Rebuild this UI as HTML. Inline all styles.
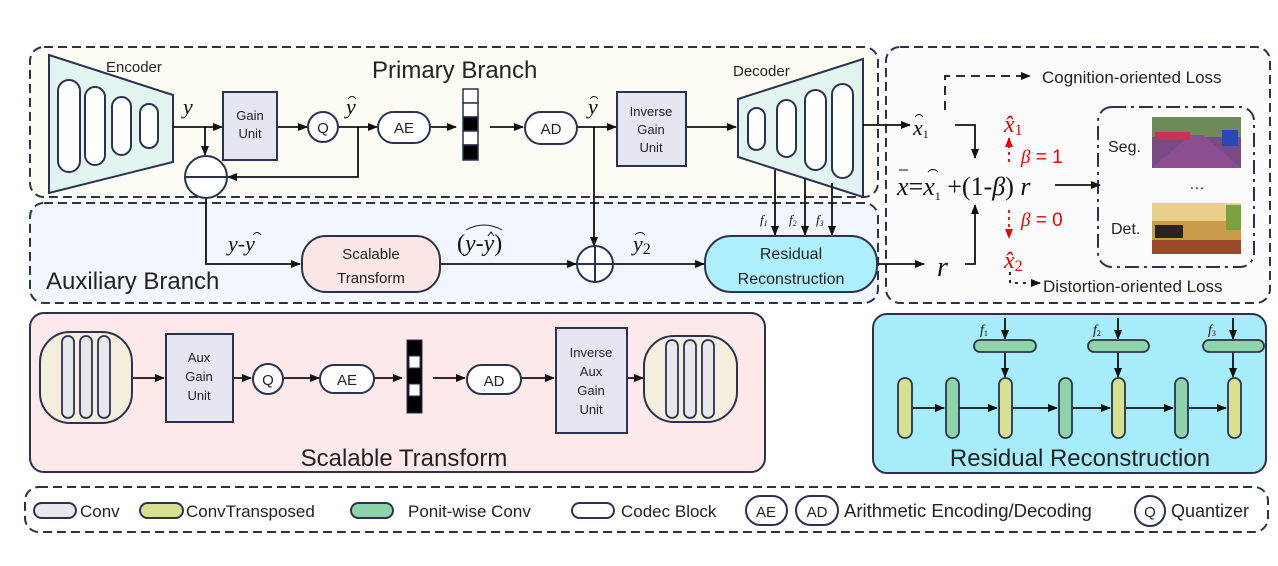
<!DOCTYPE html>
<html><head><meta charset="utf-8"><style>
html,body{margin:0;padding:0;background:#fff;}
svg{display:block;}
.s{font-family:"Liberation Sans",sans-serif;fill:#222;}
.m{font-family:"Liberation Serif",serif;font-style:italic;fill:#111;}
.n{font-family:"Liberation Serif",serif;fill:#111;}
</style></head><body>
<svg width="1278" height="566" viewBox="0 0 1278 566" xmlns="http://www.w3.org/2000/svg">
<defs>
<marker id="a" markerWidth="10" markerHeight="10" refX="9" refY="5" orient="auto" markerUnits="userSpaceOnUse"><path d="M0,1 L10,5 L0,9z" fill="#111"/></marker>
<marker id="r" markerWidth="10" markerHeight="10" refX="9" refY="5" orient="auto" markerUnits="userSpaceOnUse"><path d="M0,1 L10,5 L0,9z" fill="#e00"/></marker>
</defs>
<g stroke="#2b3250" stroke-width="2" stroke-dasharray="9,5">
<rect x="30" y="47" width="848" height="150" rx="14" fill="#fdfcf4"/>
<rect x="30" y="203" width="848" height="100" rx="14" fill="#f2f6fd"/>
<rect x="886" y="47" width="384" height="256" rx="14" fill="#fbfbfb"/>
<rect x="25" y="487" width="1243" height="45" rx="14" fill="#fff"/>
</g>
<rect x="1098" y="107" width="156" height="160" rx="14" fill="none" stroke="#2b3250" stroke-width="2" stroke-dasharray="14,5,3,5"/>
<!-- encoder -->
<path d="M49,55 L173,95 L173,162 L49,193z" fill="#e1f4f0" stroke="#2b3250" stroke-width="2"/>
<g fill="#fff" stroke="#2b3250" stroke-width="2">
<rect x="58" y="80" width="22" height="92" rx="11"/><rect x="85" y="87" width="20" height="78" rx="10"/>
<rect x="112" y="97" width="19" height="58" rx="9.5"/><rect x="140" y="104" width="18" height="44" rx="9"/>
</g>
<text x="106" y="72" class="s" font-size="15">Encoder</text>
<text x="372" y="78" class="s" font-size="24">Primary Branch</text>
<!-- decoder -->
<path d="M738,99 L863,59 L863,197 L738,157z" fill="#e1f4f0" stroke="#2b3250" stroke-width="2"/>
<g fill="#fff" stroke="#2b3250" stroke-width="2">
<rect x="748" y="108" width="17" height="42" rx="8.5"/><rect x="777" y="100" width="19" height="57" rx="9.5"/>
<rect x="805" y="90" width="21" height="80" rx="10.5"/><rect x="832" y="84" width="21" height="94" rx="10.5"/>
</g>
<text x="733" y="76" class="s" font-size="15">Decoder</text>
<!-- primary row -->
<g stroke="#111" stroke-width="1.8" fill="none">
<path d="M173,127 H222" marker-end="url(#a)"/>
<path d="M205,127 V155" marker-end="url(#a)"/>
<path d="M277,127 H307" marker-end="url(#a)"/>
<path d="M339,127 H377" marker-end="url(#a)"/>
<path d="M358,127 V177 H228" marker-end="url(#a)"/>
<path d="M430,127 H456" marker-end="url(#a)"/>
<path d="M490,127 H523" marker-end="url(#a)"/>
<path d="M577,127 H616" marker-end="url(#a)"/>
<path d="M594,127 V246" marker-end="url(#a)"/>
<path d="M686,127 H736" marker-end="url(#a)"/>
<path d="M863,125 H910" marker-end="url(#a)"/>
<path d="M775,170 V235" marker-end="url(#a)"/>
<path d="M805,178 V235" marker-end="url(#a)"/>
<path d="M832,183 V235" marker-end="url(#a)"/>
<path d="M206,198 V264 H300" marker-end="url(#a)"/>
<path d="M440,264 H576" marker-end="url(#a)"/>
<path d="M613,264 H704" marker-end="url(#a)"/>
<path d="M877,264 H924" marker-end="url(#a)"/>
</g>
<rect x="223" y="92" width="54" height="68" fill="#e6e6f2" stroke="#2b3250" stroke-width="2"/>
<text x="250" y="120" class="s" font-size="13" text-anchor="middle">Gain</text>
<text x="250" y="138" class="s" font-size="13" text-anchor="middle">Unit</text>
<circle cx="323" cy="127" r="15" fill="#fff" stroke="#2b3250" stroke-width="2"/>
<text x="323" y="133" class="s" font-size="15" text-anchor="middle">Q</text>
<circle cx="206" cy="177" r="21" fill="#fff" stroke="#2b3250" stroke-width="2"/>
<path d="M185,177 H227" stroke="#2b3250" stroke-width="2"/>
<rect x="378" y="112" width="52" height="31" rx="15.5" fill="#fff" stroke="#2b3250" stroke-width="2"/>
<text x="404" y="133" class="s" font-size="15" text-anchor="middle">AE</text>
<g stroke="#2b3250" stroke-width="1.5">
<rect x="463" y="89" width="15" height="14" fill="#fff"/><rect x="463" y="103" width="15" height="14" fill="#fff"/>
<rect x="463" y="117" width="15" height="14" fill="#000"/><rect x="463" y="131" width="15" height="14" fill="#fff"/>
<rect x="463" y="145" width="15" height="15" fill="#000"/>
</g>
<rect x="525" y="112" width="52" height="32" rx="16" fill="#fff" stroke="#2b3250" stroke-width="2"/>
<text x="551" y="134" class="s" font-size="15" text-anchor="middle">AD</text>
<rect x="617" y="92" width="69" height="74" fill="#e6e6f2" stroke="#2b3250" stroke-width="2"/>
<text x="651" y="116" class="s" font-size="13" text-anchor="middle">Inverse</text>
<text x="651" y="134" class="s" font-size="13" text-anchor="middle">Gain</text>
<text x="651" y="152" class="s" font-size="13" text-anchor="middle">Unit</text>
<!-- labels -->
<text x="183" y="114" class="m" font-size="22">y</text>
<text x="346" y="114" class="m" font-size="22">y</text><path d="M348,99 q4,-5 8,0" stroke="#111" fill="none"/>
<text x="588" y="114" class="m" font-size="22">y</text><path d="M590,99 q4,-5 8,0" stroke="#111" fill="none"/>
<text x="760" y="224" class="m" font-size="13">f<tspan font-size="8" dy="2">1</tspan></text>
<text x="789" y="224" class="m" font-size="13">f<tspan font-size="8" dy="2">2</tspan></text>
<text x="816" y="224" class="m" font-size="13">f<tspan font-size="8" dy="2">3</tspan></text>
<text x="228" y="251" class="m" font-size="22">y-y</text><path d="M253,235 q4,-5 8,0" stroke="#111" fill="none"/>
<text x="457" y="251" class="n" font-size="24">(<tspan class="m" font-style="italic">y-y</tspan>)</text>
<path d="M466,230 q18,-10 36,0" stroke="#111" fill="none"/><path d="M488,236 l3,-4 l3,4" stroke="#111" fill="none"/>
<text x="633" y="251" class="m" font-size="22">y<tspan class="n" font-style="normal" font-size="16" dy="3">2</tspan></text><path d="M635,235 q5,-5 10,0" stroke="#111" fill="none"/>
<text x="46" y="289" class="s" font-size="24">Auxiliary Branch</text>
<rect x="302" y="236" width="138" height="56" rx="24" fill="#fde6e6" stroke="#2b3250" stroke-width="2"/>
<text x="371" y="259" class="s" font-size="15" text-anchor="middle">Scalable</text>
<text x="371" y="283" class="s" font-size="15" text-anchor="middle">Transform</text>
<circle cx="595" cy="264" r="18" fill="#fff" stroke="#2b3250" stroke-width="2"/>
<path d="M577,264 H613 M595,246 V282" stroke="#2b3250" stroke-width="2"/>
<rect x="705" y="236" width="172" height="56" rx="26" fill="#aeeffc" stroke="#2b3250" stroke-width="2"/>
<text x="791" y="259" class="s" font-size="16" text-anchor="middle">Residual</text>
<text x="791" y="284" class="s" font-size="16" text-anchor="middle">Reconstruction</text>
<!-- right panel -->
<text x="913" y="135" class="m" font-size="22">x<tspan class="n" font-style="normal" font-size="12" dy="3">1</tspan></text><path d="M915,117 q4,-5 8,0" stroke="#111" fill="none"/>
<g stroke="#111" stroke-width="1.8" fill="none">
<path d="M945,110 V76 H1030" stroke-dasharray="9,6" marker-end="url(#a)"/>
<path d="M955,125 H975 V158" marker-end="url(#a)"/>
<path d="M965,264 H975 V205" marker-end="url(#a)"/>
<path d="M1055,185 H1100" marker-end="url(#a)"/>
<path d="M1010,272 V283 H1040" stroke-dasharray="3,5" marker-end="url(#a)"/>
</g>
<text x="1042" y="83" class="s" font-size="17">Cognition-oriented Loss</text>
<text x="1043" y="292" class="s" font-size="17">Distortion-oriented Loss</text>
<text x="897" y="195" class="m" font-size="26">x<tspan font-style="normal">=</tspan>x<tspan font-style="normal" font-size="12" dy="5">1</tspan><tspan font-style="normal" dy="-5"> +(1-</tspan>β<tspan font-style="normal">) </tspan>r</text>
<path d="M899,170 h9" stroke="#111"/><path d="M928,172 q5,-5 10,0" stroke="#111" fill="none"/>
<text x="937" y="276" class="m" font-size="28">r</text>
<g stroke="#e00" stroke-width="1.8" stroke-dasharray="3,4" fill="none">
<path d="M1009,162 V138" marker-end="url(#r)"/>
<path d="M1009,210 V238" marker-end="url(#r)"/>
</g>
<text x="1004" y="132" font-family="Liberation Serif,serif" font-style="italic" font-size="24" fill="#e00">x̂<tspan font-style="normal" font-size="16" dy="3">1</tspan></text>
<text x="1004" y="268" font-family="Liberation Serif,serif" font-style="italic" font-size="24" fill="#e00">x̂<tspan font-style="normal" font-size="16" dy="3">2</tspan></text>
<text x="1021" y="163" font-family="Liberation Sans,sans-serif" font-size="19" fill="#e00"><tspan font-family="Liberation Serif,serif" font-style="italic">β</tspan> = 1</text>
<text x="1021" y="226" font-family="Liberation Sans,sans-serif" font-size="19" fill="#e00"><tspan font-family="Liberation Serif,serif" font-style="italic">β</tspan> = 0</text>
<text x="1108" y="152" class="s" font-size="16">Seg.</text>
<text x="1111" y="234" class="s" font-size="16">Det.</text>
<text x="1197" y="189" class="s" font-size="16" text-anchor="middle">…</text>
<rect x="1152" y="117" width="89" height="51" fill="#7a4a84"/>
<rect x="1152" y="117" width="89" height="20" fill="#6f8a5a"/>
<path d="M1152,168 L1190,135 L1203,135 L1241,168z" fill="#8b4f91"/>
<rect x="1155" y="132" width="35" height="8" fill="#c8325a"/><rect x="1222" y="130" width="16" height="16" fill="#2746b8"/>
<rect x="1152" y="203" width="89" height="51" fill="#c89a4a"/>
<rect x="1152" y="203" width="89" height="18" fill="#e8d08a"/>
<rect x="1155" y="225" width="28" height="13" fill="#2a2220"/>
<rect x="1152" y="240" width="89" height="14" fill="#9a4a2a"/>
<rect x="1226" y="205" width="15" height="25" fill="#7aa040"/>
<!-- Scalable Transform detail -->
<rect x="30" y="313" width="735" height="159" rx="14" fill="#fde9ea" stroke="#2b3250" stroke-width="2"/>
<g stroke="#111" stroke-width="1.8" fill="none">
<path d="M132,378 H164" marker-end="url(#a)"/>
<path d="M233,378 H251" marker-end="url(#a)"/>
<path d="M284,378 H319" marker-end="url(#a)"/>
<path d="M374,378 H402" marker-end="url(#a)"/>
<path d="M433,378 H465" marker-end="url(#a)"/>
<path d="M521,378 H554" marker-end="url(#a)"/>
<path d="M627,378 H643" marker-end="url(#a)"/>
</g>
<g stroke="#2b3250" stroke-width="2">
<rect x="40" y="332" width="92" height="91" rx="30" fill="#f3efdc"/>
<rect x="644" y="336" width="93" height="86" rx="30" fill="#f3efdc"/>
<rect x="166" y="334" width="67" height="88" fill="#e6e6f2"/>
<rect x="556" y="328" width="71" height="105" fill="#e6e6f2"/>
<rect x="320" y="365" width="54" height="28" rx="14" fill="#fff"/>
<rect x="467" y="365" width="54" height="29" rx="14.5" fill="#fff"/>
<circle cx="268" cy="379" r="15" fill="#fff"/>
</g>
<g fill="#e8e8ec" stroke="#2b3250" stroke-width="1.8">
<rect x="62" y="336" width="12" height="82" rx="6"/><rect x="80" y="336" width="12" height="82" rx="6"/><rect x="98" y="336" width="12" height="82" rx="6"/>
<rect x="666" y="340" width="12" height="78" rx="6"/><rect x="684" y="340" width="12" height="78" rx="6"/><rect x="702" y="340" width="12" height="78" rx="6"/>
</g>
<g stroke="#2b3250" stroke-width="1">
<rect x="407" y="340" width="15" height="73" fill="#000"/>
<rect x="409" y="356" width="11" height="12" fill="#fff"/><rect x="409" y="384" width="11" height="12" fill="#fff"/>
</g>
<text x="199" y="362" class="s" font-size="13" text-anchor="middle">Aux</text>
<text x="199" y="381" class="s" font-size="13" text-anchor="middle">Gain</text>
<text x="199" y="400" class="s" font-size="13" text-anchor="middle">Unit</text>
<text x="591" y="357" class="s" font-size="13" text-anchor="middle">Inverse</text>
<text x="591" y="376" class="s" font-size="13" text-anchor="middle">Aux</text>
<text x="591" y="395" class="s" font-size="13" text-anchor="middle">Gain</text>
<text x="591" y="414" class="s" font-size="13" text-anchor="middle">Unit</text>
<text x="268" y="385" class="s" font-size="15" text-anchor="middle">Q</text>
<text x="347" y="385" class="s" font-size="15" text-anchor="middle">AE</text>
<text x="494" y="386" class="s" font-size="15" text-anchor="middle">AD</text>
<text x="404" y="466" class="s" font-size="24" text-anchor="middle">Scalable Transform</text>
<!-- Residual detail -->
<rect x="873" y="314" width="393" height="159" rx="14" fill="#a6ecfa" stroke="#2b3250" stroke-width="2"/>
<g stroke="#111" stroke-width="1.8" fill="none">
<path d="M912,408 H944" marker-end="url(#a)"/>
<path d="M959,408 H997" marker-end="url(#a)"/>
<path d="M1012,408 H1057" marker-end="url(#a)"/>
<path d="M1072,408 H1110" marker-end="url(#a)"/>
<path d="M1125,408 H1173" marker-end="url(#a)"/>
<path d="M1188,408 H1226" marker-end="url(#a)"/>
<path d="M1005,318 V339" marker-end="url(#a)"/><path d="M1005,352 V377" marker-end="url(#a)"/>
<path d="M1118,318 V339" marker-end="url(#a)"/><path d="M1118,352 V377" marker-end="url(#a)"/>
<path d="M1233,318 V339" marker-end="url(#a)"/><path d="M1233,352 V377" marker-end="url(#a)"/>
</g>
<g stroke="#2b3250" stroke-width="1.8">
<rect x="898" y="378" width="14" height="60" rx="7" fill="#d6e08e"/>
<rect x="946" y="378" width="13" height="60" rx="6.5" fill="#8fd4a8"/>
<rect x="999" y="378" width="13" height="60" rx="6.5" fill="#d6e08e"/>
<rect x="1059" y="378" width="13" height="60" rx="6.5" fill="#8fd4a8"/>
<rect x="1112" y="378" width="13" height="60" rx="6.5" fill="#d6e08e"/>
<rect x="1175" y="378" width="13" height="60" rx="6.5" fill="#8fd4a8"/>
<rect x="1228" y="378" width="13" height="60" rx="6.5" fill="#d6e08e"/>
<rect x="974" y="340" width="62" height="12" rx="6" fill="#8fd4a8"/>
<rect x="1088" y="340" width="61" height="12" rx="6" fill="#8fd4a8"/>
<rect x="1203" y="340" width="61" height="12" rx="6" fill="#8fd4a8"/>
</g>
<text x="980" y="334" class="m" font-size="14">f<tspan font-style="normal" font-size="8" dy="2">1</tspan></text>
<text x="1093" y="334" class="m" font-size="14">f<tspan font-style="normal" font-size="8" dy="2">2</tspan></text>
<text x="1208" y="334" class="m" font-size="14">f<tspan font-style="normal" font-size="8" dy="2">3</tspan></text>
<text x="1080" y="466" class="s" font-size="24" text-anchor="middle">Residual Reconstruction</text>
<!-- legend -->
<g stroke="#2b3250" stroke-width="2">
<rect x="34" y="503" width="42" height="15" rx="7.5" fill="#e8e8ec"/>
<rect x="140" y="503" width="43" height="15" rx="7.5" fill="#d6e08e"/>
<rect x="351" y="503" width="42" height="15" rx="7.5" fill="#8fd4a8"/>
<rect x="572" y="503" width="42" height="15" rx="7.5" fill="#fff"/>
<rect x="746" y="496" width="41" height="29" rx="14.5" fill="#fff"/>
<rect x="796" y="496" width="42" height="29" rx="14.5" fill="#fff"/>
<circle cx="1150" cy="511" r="15" fill="#fff"/>
</g>
<g class="s" font-size="17">
<text x="80" y="517">Conv</text>
<text x="186" y="517">ConvTransposed</text>
<text x="408" y="517">Ponit-wise Conv</text>
<text x="621" y="517">Codec Block</text>
<text x="766" y="517" text-anchor="middle" font-size="15">AE</text>
<text x="817" y="517" text-anchor="middle" font-size="15">AD</text>
<text x="844" y="517" font-size="18.5">Arithmetic Encoding/Decoding</text>
<text x="1150" y="517" text-anchor="middle" font-size="15">Q</text>
<text x="1171" y="517" font-size="18">Quantizer</text>
</g>
</svg>
</body></html>
